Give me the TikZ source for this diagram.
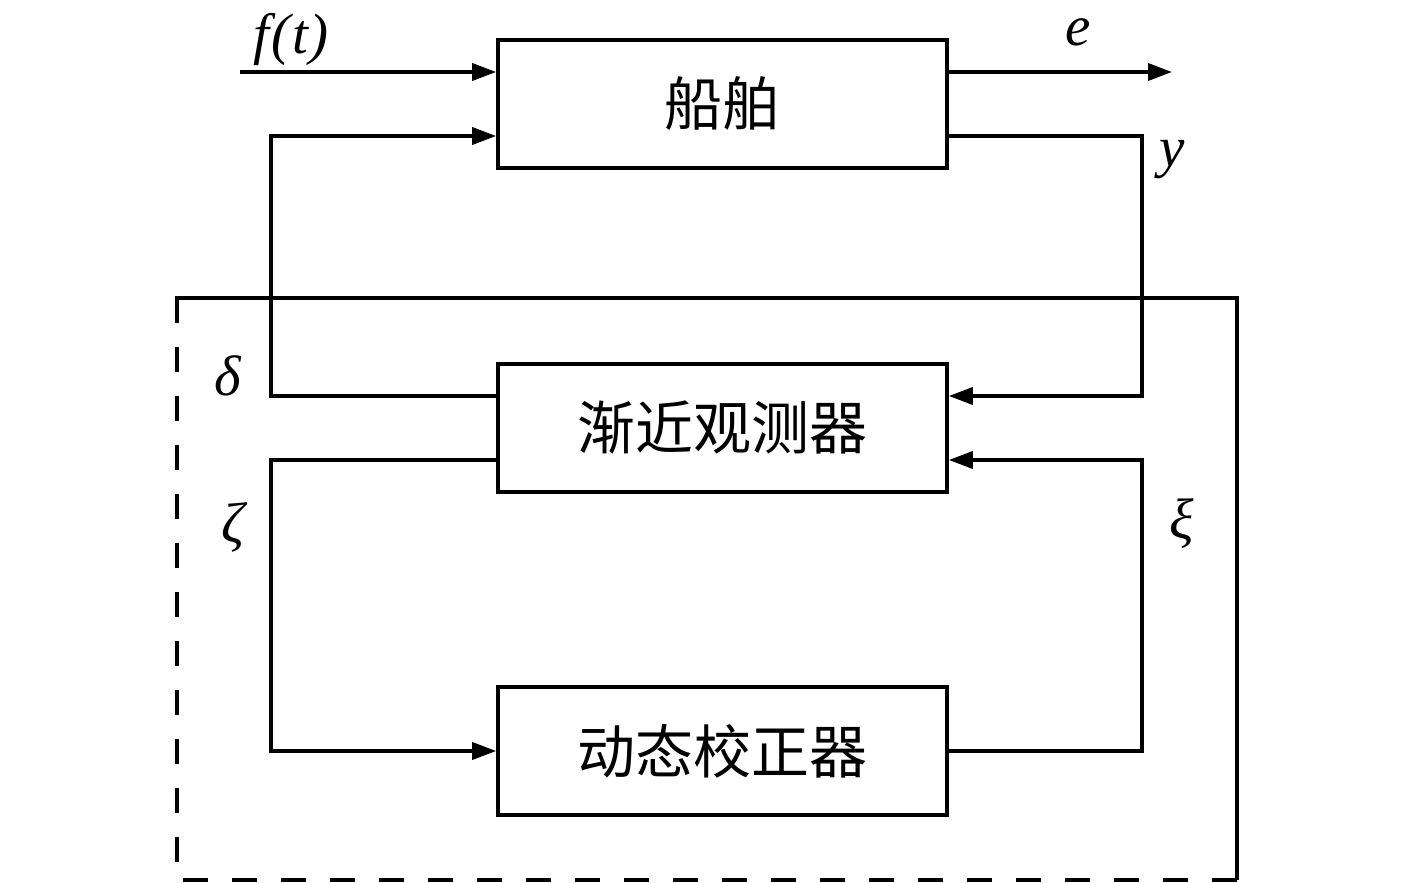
\documentclass[tikz,border=0pt]{standalone}
\usepackage{fontspec}
\setmainfont{Liberation Serif}
\newfontfamily\cjk{Noto Sans CJK SC}
\usetikzlibrary{arrows.meta,calc}
\tikzset{
  blockbox/.style={draw, line width=3.6pt, minimum width=449pt, minimum height=128pt, inner sep=0pt,
    font=\cjk\fontsize{58}{62}\selectfont},
  wire/.style={line width=3.6pt},
  arr/.style={wire, -{Triangle[length=24pt,width=17pt]}},
  lbl/.style={font=\itshape\fontsize{57}{60}\selectfont, inner sep=0pt},
  dashwire/.style={line width=3.6pt, dash pattern=on 25pt off 24pt}
}
\begin{document}
\begin{tikzpicture}[x=1pt,y=-1pt]
\useasboundingbox (0,0) rectangle (1417,883);
% blocks
\node[blockbox] (plant) at (722.5,104) {船舶};
\node[blockbox] (obs) at (722.5,428) {渐近观测器};
\node[blockbox] (corr) at (722.5,751) {动态校正器};
% controller boundary
\coordinate (tl) at (177,298);
\coordinate (tr) at (1237,298);
\coordinate (br) at (1237,880);
\coordinate (bl) at (177,880);
\draw[wire] ($(tl)+(0,25)$) -- (tl) -- (tr) -- (br);
\draw[dashwire] (tl) -- (bl) -- (br);
% signals
\coordinate (fin) at (240,72);
\coordinate (eout) at (1172,72);
\draw[arr] (fin) -- ([yshift=32pt]plant.west);
\draw[arr] ([yshift=32pt]plant.east) -- (eout);
\draw[arr] ([yshift=-32pt]plant.east) -- ++(193,0) |- ([yshift=32pt]obs.east);
\draw[arr] ([yshift=32pt]obs.west) -- ++(-225,0) |- ([yshift=-32pt]plant.west);
\draw[arr] ([yshift=-32pt]obs.west) -- ++(-225,0) |- (corr.west);
\draw[arr] (corr.east) -- ++(193,0) |- ([yshift=-32pt]obs.east);
% labels
\node[lbl] (lf) at (291,40) {f\kern2pt(\kern2pt t\kern2pt)};
\node[lbl] (le) at (1078,32) {e};
\node[lbl] (ly) at (1172,160) {y};
\node[lbl] (ld) at (228,376) {δ};
\node[lbl] (lz) at (233,527) {ζ};
\node[lbl] (lx) at (1182,524) {ξ};
\end{tikzpicture}
\end{document}
